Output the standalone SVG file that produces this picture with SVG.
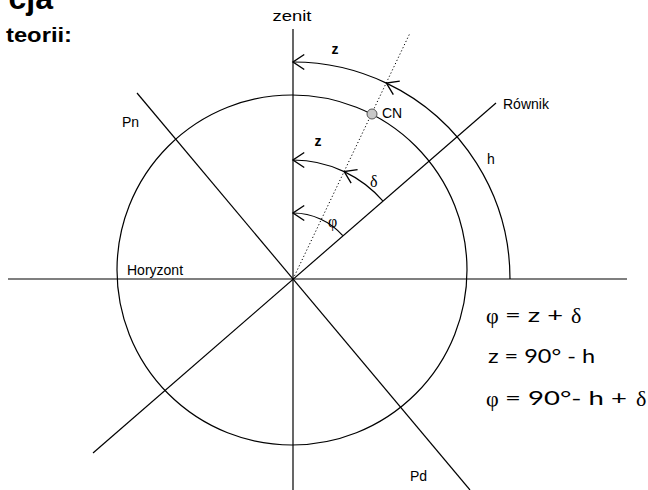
<svg xmlns="http://www.w3.org/2000/svg" width="648" height="490" viewBox="0 0 648 490">
<style>
.ln{stroke:#000;stroke-width:1.2;fill:none}
.arc{stroke:#000;stroke-width:1.2;fill:none}
.lbl{font-family:"Liberation Sans",Arial,sans-serif;font-size:14px;fill:#000}
.gr{font-family:"Liberation Serif","Times New Roman",serif;font-size:16px;fill:#000}
.fm{font-family:Lato,"Liberation Sans",sans-serif;font-size:19px;fill:#000}
.fg{font-family:"Liberation Serif","Times New Roman",serif;font-size:22px;fill:#000}
.ttl{font-family:"Liberation Sans",Arial,sans-serif;font-weight:bold;fill:#000}
</style>
<defs>
<marker id="ah" markerUnits="userSpaceOnUse" markerWidth="20" markerHeight="20" refX="0" refY="0" viewBox="-12 -8 14 16" orient="auto" overflow="visible">
<path d="M -9 -6 L 0 0 L -9 6" fill="none" stroke="#000" stroke-width="1.1"/>
</marker>
</defs>
<rect width="648" height="490" fill="#fff"/>
<g id="title">
<text class="ttl" x="53" y="9" font-size="32" text-anchor="end">cja</text>
<text class="ttl" x="6" y="42" font-size="20" textLength="66" lengthAdjust="spacingAndGlyphs">teorii:</text>
</g>
<g id="globe">
<circle cx="292" cy="270" r="175" class="ln"/>
</g>
<g id="connectors">
<line class="ln" x1="8" y1="279" x2="627" y2="279"/>
<line class="ln" x1="293" y1="29" x2="293" y2="490"/>
<line class="ln" x1="93" y1="453" x2="496" y2="103"/>
<line class="ln" x1="137" y1="93" x2="470" y2="490"/>
<line x1="293" y1="279" x2="410" y2="33" stroke="#000" stroke-width="1" stroke-dasharray="1.2 2.3"/>
<path class="arc" d="M 510 279 A 217 217 0 0 0 386.4 83.1" marker-end="url(#ah)"/>
<path class="arc" d="M 386.4 83.1 A 217 217 0 0 0 293 62" marker-end="url(#ah)"/>
<path class="arc" d="M 382.8 200.9 A 119 119 0 0 0 344.2 171.6" marker-end="url(#ah)"/>
<path class="arc" d="M 344.2 171.6 A 119 119 0 0 0 293 160" marker-end="url(#ah)"/>
<path class="arc" d="M 342.8 235.7 A 66 66 0 0 0 293 213" marker-end="url(#ah)"/>
</g>
<g id="cn">
<circle cx="372" cy="114" r="5" fill="#c8c8c8" stroke="#555" stroke-width="1"/>
<text class="lbl" x="382" y="118" font-size="13">CN</text>
</g>
<g id="labels">
<text class="lbl" x="292" y="21" text-anchor="middle" font-size="16" textLength="39" lengthAdjust="spacingAndGlyphs">zenit</text>
<text class="lbl" x="335" y="54" font-weight="bold" text-anchor="middle">z</text>
<text class="lbl" x="318" y="146" font-weight="bold" text-anchor="middle">z</text>
<text class="gr" x="370" y="187">δ</text>
<text class="gr" x="328" y="227">φ</text>
<text class="lbl" x="503" y="109" font-size="15">Równik</text>
<text class="lbl" x="487" y="164">h</text>
<text class="lbl" x="122" y="127">Pn</text>
<text class="lbl" x="410" y="481" font-size="16">Pd</text>
<text class="lbl" x="127" y="275" font-size="15.3">Horyzont</text>
</g>
<g id="formulas">
<text class="fg" x="486" y="323">φ</text>
<text class="fm" x="505" y="322" textLength="58" lengthAdjust="spacingAndGlyphs">= z +</text>
<text class="fg" x="571" y="323">δ</text>
<text class="fm" x="488" y="363" textLength="107" lengthAdjust="spacingAndGlyphs">z = 90° - h</text>
<text class="fg" x="486" y="406">φ</text>
<text class="fm" x="505" y="405" textLength="122" lengthAdjust="spacingAndGlyphs">= 90°- h +</text>
<text class="fg" x="636" y="406">δ</text>
</g>
</svg>
